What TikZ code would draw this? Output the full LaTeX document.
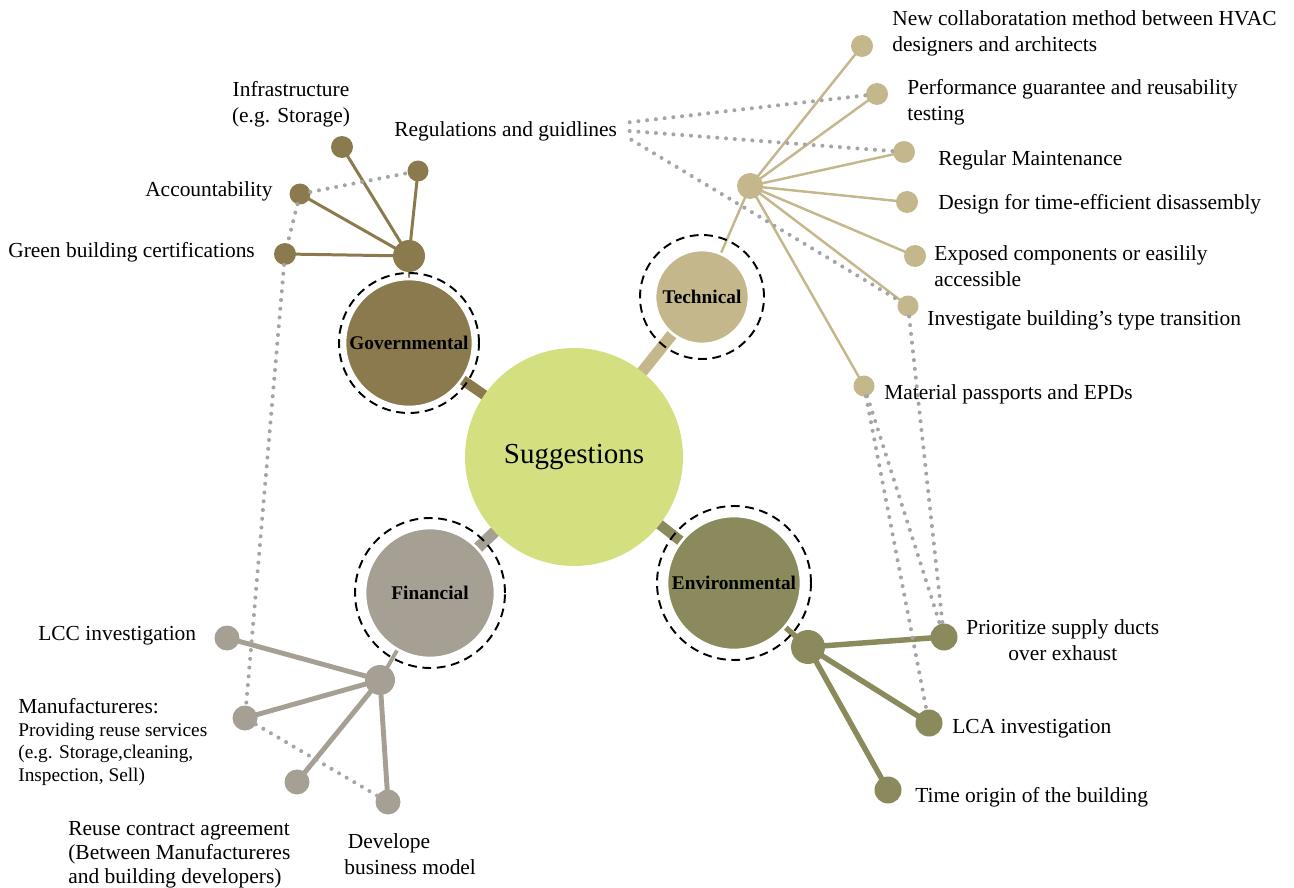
\documentclass[tikz,border=0pt]{standalone}
\usepackage{fontspec}
\setmainfont{Liberation Serif}
\usetikzlibrary{positioning,backgrounds}
\definecolor{sugGreen}{RGB}{212,224,128}
\definecolor{govBrown}{RGB}{139,122,78}
\definecolor{techSand}{RGB}{196,183,140}
\definecolor{finGrey}{RGB}{165,160,147}
\definecolor{envOlive}{RGB}{139,138,92}
\definecolor{dotGrey}{RGB}{165,165,165}
\tikzset{
	sugCircle/.style={
		circle,
		inner sep=0pt,
		outer sep=0pt
	},
	sugCore/.style={sugCircle, fill=sugGreen, minimum size=4.36cm, font=\fontsize{16.5}{18}\selectfont},
	sugCategory/.style={sugCircle, draw=white, line width=1.5pt, font=\bfseries\fontsize{11}{12}\selectfont},
	sugRing/.style={sugCircle, draw=black, line width=1.1pt, dash pattern=on 5pt off 3.2pt},
	govNode/.style={sugCircle, fill=govBrown},
	techNode/.style={sugCircle, fill=techSand},
	finNode/.style={sugCircle, fill=finGrey},
	envNode/.style={sugCircle, fill=envOlive},
	govLine/.style={draw=govBrown, line width=1.7pt},
	techLine/.style={draw=techSand, line width=1.4pt},
	finLine/.style={draw=finGrey, line width=2.8pt},
	envLine/.style={draw=envOlive, line width=3.1pt},
	sugLabel/.style={inner sep=0pt, align=left, font=\fontsize{12.2}{14.7}\selectfont},
	sugDotted/.style={draw=dotGrey, line width=2.3pt, line cap=round, dash pattern=on 0pt off 5pt}
}

\begin{document}
\begin{tikzpicture}[x=0.02cm, y=-0.02cm]
	\useasboundingbox (0,0) rectangle (1294,888);

	% Core
	\node[sugCore] (sug) at (574,457) {Suggestions};

	% Category layer
	\node[sugCategory, fill=govBrown, minimum size=2.56cm] (gov) at (409,343) {Governmental};
	\node[sugRing, minimum size=2.8cm] (govRing) at (gov) {};
	\node[sugCategory, fill=techSand, minimum size=1.88cm] (tech) at (702,297) {Technical};
	\node[sugRing, minimum size=2.48cm] (techRing) at (tech) {};
	\node[sugCategory, fill=finGrey, minimum size=2.6cm] (fin) at (430,593) {Financial};
	\node[sugRing, minimum size=3cm] (finRing) at (fin) {};
	\node[sugCategory, fill=envOlive, minimum size=2.68cm] (env) at (734,583) {Environmental};
	\node[sugRing, minimum size=3.08cm] (envRing) at (env) {};

	% Hubs
	\node[govNode, minimum size=0.64cm] (govHub) at (409,256) {};
	\node[techNode, minimum size=0.52cm] (techHub) at (750,186) {};
	\node[finNode, minimum size=0.6cm] (finHub) at (380,680) {};
	\node[envNode, minimum size=0.68cm] (envHub) at (808,647) {};

	% Governmental leaves
	\node[govNode, minimum size=0.44cm] (govInfra) at (342,147) {};
	\node[govNode, minimum size=0.42cm] (govReg) at (418,171) {};
	\node[govNode, minimum size=0.42cm] (govAcc) at (300,194) {};
	\node[govNode, minimum size=0.44cm] (govGreen) at (285,254) {};

	% Technical leaves
	\node[techNode, minimum size=0.44cm] (techCollab) at (862,46) {};
	\node[techNode, minimum size=0.44cm] (techPerf) at (877,94) {};
	\node[techNode, minimum size=0.44cm] (techMaint) at (904,152) {};
	\node[techNode, minimum size=0.44cm] (techDesign) at (907,202) {};
	\node[techNode, minimum size=0.44cm] (techExposed) at (915,256) {};
	\node[techNode, minimum size=0.42cm] (techTransit) at (908,306) {};
	\node[techNode, minimum size=0.42cm] (techPassport) at (864,386) {};

	% Financial leaves
	\node[finNode, minimum size=0.5cm] (finLCC) at (227,638) {};
	\node[finNode, minimum size=0.5cm] (finManuf) at (245,718) {};
	\node[finNode, minimum size=0.5cm] (finContract) at (297,782) {};
	\node[finNode, minimum size=0.5cm] (finBusiness) at (388,802) {};

	% Environmental leaves
	\node[envNode, minimum size=0.54cm] (envDucts) at (944,637) {};
	\node[envNode, minimum size=0.54cm] (envLCA) at (929,723) {};
	\node[envNode, minimum size=0.54cm] (envTime) at (888,790) {};

	% Labels
	\node[sugLabel, align=center] (govInfraTxt) at (291,104) {Infrastructure\\(e.g. Storage)};
	\node[sugLabel, anchor=west] (govRegTxt) at (394,131) {Regulations and guidlines};
	\node[sugLabel, anchor=east] (govAccTxt) at (273,191) {Accountability};
	\node[sugLabel, anchor=west] (govGreenTxt) at (8,252) {Green building certifications};

	\node[sugLabel, anchor=west] (techCollabTxt) at (892,33) {New collaboratation method between HVAC\\designers and architects};
	\node[sugLabel, anchor=west] (techPerfTxt) at (907,102) {Performance guarantee and reusability\\testing};
	\node[sugLabel, anchor=west] (techMaintTxt) at (938,160) {Regular Maintenance};
	\node[sugLabel, anchor=west] (techDesignTxt) at (938,204) {Design for time-efficient disassembly};
	\node[sugLabel, anchor=west] (techExposedTxt) at (934,266) {Exposed components or easilily\\accessible};
	\node[sugLabel, anchor=west] (techTransitTxt) at (927,320) {Investigate building's type transition};
	\node[sugLabel, anchor=west] (techPassportTxt) at (884,394) {Material passports and EPDs};

	\node[sugLabel, anchor=west, align=center] (envDuctsTxt) at (966,640) {Prioritize supply ducts\\over exhaust};
	\node[sugLabel, anchor=west] (envLCATxt) at (952,729) {LCA investigation};
	\node[sugLabel, anchor=west] (envTimeTxt) at (915,797) {Time origin of the building};

	\node[sugLabel, anchor=west] (finLCCTxt) at (38,636) {LCC investigation};
	\node[sugLabel, anchor=west, font=\fontsize{11}{13}\selectfont] (finManufTxt) at (18,742)
	{{\fontsize{12.2}{13}\selectfont Manufactureres:}\\Providing reuse services\\(e.g. Storage,cleaning,\\Inspection, Sell)};
	\node[sugLabel, anchor=west, font=\fontsize{12.2}{13.8}\selectfont] (finContractTxt) at (68,855)
	{Reuse contract agreement\\(Between Manufactureres\\and building developers)};
	\node[sugLabel, anchor=west] (finBusinessTxt) at (344,854) {\,Develope\\business model};

	% Links
	\begin{scope}[on background layer]
		\draw[govLine, line width=5.8pt] (sug.center) -- (gov.center);
		\draw[techLine, line width=6.5pt] (sug.center) -- (tech.center);
		\draw[finLine, line width=6.5pt] (sug.center) -- (fin.center);
		\draw[envLine, line width=5.8pt] (sug.center) -- (env.center);

		\draw[govLine, line width=1.2pt] (gov.center) -- (govHub.center);
		\draw[techLine] (tech.center) -- (techHub.center);
		\draw[finLine, line width=2.2pt] (fin.center) -- (finHub.center);
		\draw[envLine] (env.center) -- (envHub.center);

		\draw[govLine] (govHub.center) -- (govInfra.center);
		\draw[govLine] (govHub.center) -- (govReg.center);
		\draw[govLine] (govHub.center) -- (govAcc.center);
		\draw[govLine] (govHub.center) -- (govGreen.center);

		\draw[techLine] (techHub.center) -- (techCollab.center);
		\draw[techLine] (techHub.center) -- (techPerf.center);
		\draw[techLine] (techHub.center) -- (techMaint.center);
		\draw[techLine] (techHub.center) -- (techDesign.center);
		\draw[techLine] (techHub.center) -- (techExposed.center);
		\draw[techLine] (techHub.center) -- (techTransit.center);
		\draw[techLine] (techHub.center) -- (techPassport.center);

		\draw[finLine] (finHub.center) -- (finLCC.center);
		\draw[finLine] (finHub.center) -- (finManuf.center);
		\draw[finLine] (finHub.center) -- (finContract.center);
		\draw[finLine] (finHub.center) -- (finBusiness.center);

		\draw[envLine] (envHub.center) -- (envDucts.center);
		\draw[envLine] (envHub.center) -- (envLCA.center);
		\draw[envLine] (envHub.center) -- (envTime.center);
	\end{scope}

	% Dotted relations
	\draw[sugDotted] (govAcc) -- (govReg);
	\draw[sugDotted] (govAcc) -- (govGreen) -- (finManuf);
	\draw[sugDotted] (finManuf) -- (finBusiness);
	\draw[sugDotted] ([xshift=7pt,yshift=5pt]govRegTxt.east) -- (techPerf);
	\draw[sugDotted] ([xshift=7pt]govRegTxt.east) -- (techMaint);
	\draw[sugDotted] ([xshift=8pt,yshift=-5pt]govRegTxt.east) -- (techTransit);
	\draw[sugDotted] (techTransit) -- (envDucts);
	\draw[sugDotted] (techPassport) -- (envDucts);
	\draw[sugDotted] (techPassport) -- (envLCA);

\end{tikzpicture}
\end{document}
